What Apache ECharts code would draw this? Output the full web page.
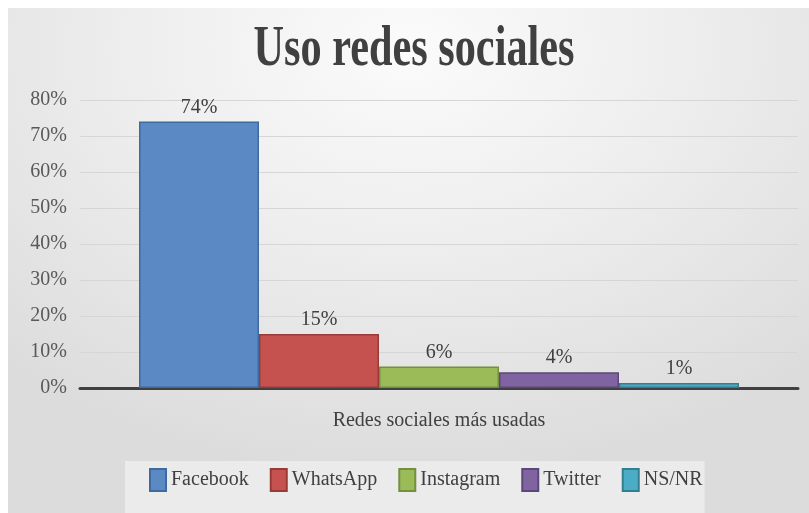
<!DOCTYPE html>
<html>
<head>
<meta charset="utf-8">
<script src="https://cdn.jsdelivr.net/npm/echarts@6/dist/echarts.min.js"></script>
<style>
  html, body { margin: 0; padding: 0; background: #ffffff; width: 809px; height: 513px; overflow: hidden; }
  #chart {
    position: absolute; left: 8px; top: 8px; width: 801px; height: 505px;
    background: radial-gradient(ellipse 75% 85% at 50% 8%, #fbfbfb 0%, #eeeeee 45%, #dcdcdc 100%);
  }
</style>
</head>
<body>
<div id="chart"></div>
<script>
const titleText = 'Uso redes sociales';
const categories = ['Redes sociales más usadas'];
const seriesNames = ['Facebook', 'WhatsApp', 'Instagram', 'Twitter', 'NS/NR'];
const seriesValues = [0.74, 0.15, 0.06, 0.044, 0.014];
const seriesColors = ['#5a89c4', '#c6524f', '#9bbb59', '#8064a2', '#4bacc6'];
const borderColors = ['#3f6a9e', '#9a3a38', '#748f40', '#5c4776', '#357d91'];
const yMin = 0, yMax = 0.8, yStep = 0.1;

const FONT = '"Liberation Serif", "DejaVu Serif", serif';
const pct = v => Math.round(v * 100) + '%';

const chart = echarts.init(document.getElementById('chart'), null, { renderer: 'canvas' });

const series = seriesNames.map((name, i) => ({
  name: name,
  type: 'bar',
  data: [seriesValues[i]],
  barWidth: 120,
  barGap: '0%',
  itemStyle: { color: seriesColors[i], borderColor: borderColors[i], borderWidth: 1.5 },
  label: {
    show: true, position: 'top', distance: 4,
    formatter: p => pct(p.value),
    fontFamily: FONT, fontSize: 20, color: '#404040'
  }
}));

chart.setOption({
  backgroundColor: 'transparent',
  animation: false,
  graphic: [{
    type: 'text',
    x: 406, y: 43,
    scaleX: 0.755,
    style: {
      text: titleText,
      font: 'bold 56px "Liberation Serif", "DejaVu Serif", serif',
      fill: '#404040',
      textAlign: 'center',
      textVerticalAlign: 'middle'
    }
  }],
  grid: { left: 72, right: 11, top: 92, bottom: 125, containLabel: false },
  xAxis: {
    type: 'category',
    data: categories,
    axisLine: { show: true, lineStyle: { color: '#404040', width: 3 } },
    axisTick: { show: false },
    axisLabel: { fontFamily: FONT, fontSize: 20, color: '#404040', margin: 23 },
    splitLine: { show: false }
  },
  yAxis: {
    type: 'value',
    min: yMin, max: yMax, interval: yStep,
    axisLine: { show: false },
    axisTick: { show: false },
    axisLabel: { formatter: pct, fontFamily: FONT, fontSize: 20, color: '#595959', margin: 13 },
    splitLine: { show: true, lineStyle: { color: '#d6d6d6', width: 1 } }
  },
  legend: {
    data: seriesNames,
    left: 117, top: 453,
    padding: [7, 2, 40, 24],
    itemWidth: 16, itemHeight: 22, itemGap: 21,
    icon: 'rect',
    backgroundColor: '#ebebeb',
    textStyle: { fontFamily: FONT, fontSize: 20, color: '#404040' }
  },
  series: series
});
</script>
</body>
</html>
